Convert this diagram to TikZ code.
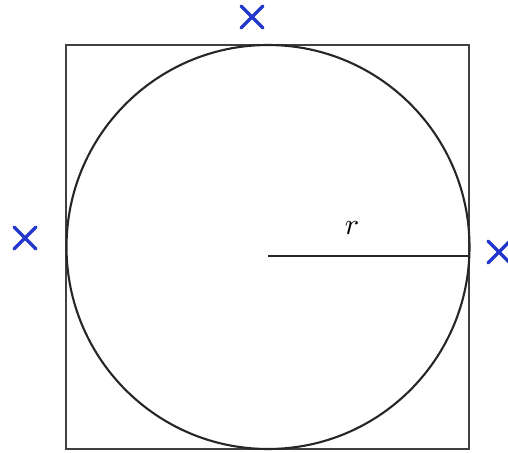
\documentclass[tikz,border=0pt]{standalone}
\begin{document}
\begin{tikzpicture}[x=1pt,y=-1pt,
  crossmark/.style={draw={rgb,255:red,35;green,55;blue,205}, line width=3.2pt, line cap=round},
  outline/.style={draw=black!85, line width=1.4pt}]
\useasboundingbox (0,0) rectangle (508,452);
\coordinate (O) at (268,247);
\coordinate (E) at (469,256);
\coordinate (S) at (268,256);
\draw[outline, line width=1.5pt, draw=black!75] (66,45) rectangle (469,449);
\draw[outline, line width=2.1pt] (O) ellipse [x radius=201.5, y radius=202];
\draw[outline, line width=2pt] (S) -- (E);
\node[scale=3] (r) at (352,228) {$r$};
\foreach \cx/\cy in {252/17, 25/238, 499/252} {
  \draw[crossmark] (\cx-11,\cy-11) -- (\cx+11,\cy+11);
  \draw[crossmark] (\cx-11,\cy+11) -- (\cx+11,\cy-11);
}
\end{tikzpicture}
\end{document}
